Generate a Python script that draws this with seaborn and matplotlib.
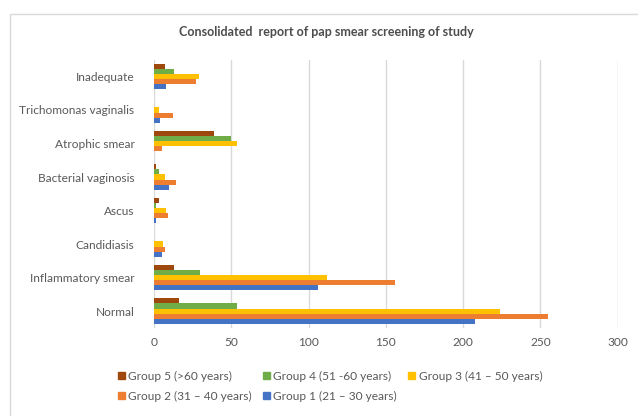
import pandas as pd
import seaborn as sns
import matplotlib.pyplot as plt
from matplotlib.patches import Rectangle, Patch

# datos
categorias = ['Inadequate', 'Trichomonas vaginalis', 'Atrophic smear', 'Bacterial vaginosis',
              'Ascus', 'Candidiasis', 'Inflammatory smear', 'Normal']
grupos = ['Group 5 (>60 years)', 'Group 4 (51 -60 years)', 'Group 3 (41 \u2013 50 years)',
          'Group 2 (31 \u2013 40 years)', 'Group 1 (21 \u2013 30 years)']

g5 = [7, 0, 39, 1, 3, 0, 13, 16]
g4 = [13, 0, 50, 3, 1, 0, 30, 54]
g3 = [29, 3, 54, 7, 8, 6, 112, 224]
g2 = [27, 12, 5, 14, 9, 7, 156, 255]
g1 = [8, 4, 0, 10, 1, 5, 106, 208]

colores = ['#9E480E', '#70AD47', '#FFC000', '#ED7D31', '#4472C4']
xticks = [0, 50, 100, 150, 200, 250, 300]

valores = [g5, g4, g3, g2, g1]
filas = []
for grupo, vals in zip(grupos, valores):
    for cat, v in zip(categorias, vals):
        filas.append({'cat': cat, 'grupo': grupo, 'n': v})
df = pd.DataFrame(filas)

sns.set_style('white')
plt.rcParams['font.family'] = ['Lato', 'DejaVu Sans']

fig = plt.figure(figsize=(6.38, 4.16), dpi=100)
ax = fig.add_axes([0.2414, 0.2121, 0.968 - 0.2414, 0.8564 - 0.2121])

sns.barplot(data=df, x='n', y='cat', hue='grupo', order=categorias, hue_order=grupos,
            palette=colores, orient='h', width=0.75, ax=ax, legend=False,
            linewidth=0, saturation=1)

ax.set_xlim(0, 300)
ax.set_xticks(xticks)
ax.grid(axis='x', color='#D9D9D9', linewidth=1)
ax.set_axisbelow(True)
for s in ax.spines.values():
    s.set_visible(False)
ax.set_xlabel('')
ax.set_ylabel('')
ax.tick_params(axis='both', colors='#595959', labelsize=8.6, length=0)
ax.tick_params(axis='y', pad=14)
ax.tick_params(axis='x', pad=7)

fig.text(0.511, 0.922, 'Consolidated  report of pap smear screening of study',
         ha='center', va='center', fontsize=9, fontweight='bold', color='#4d4d4d')

# leyenda en filas: G5 G4 G3 / G2 G1
orden = [0, 3, 1, 4, 2]
handles = [Patch(color=colores[i], label=grupos[i]) for i in orden]
fig.legend(handles=handles, ncol=3, loc='center', bbox_to_anchor=(0.517, 0.0715),
           frameon=False, fontsize=8.6, handlelength=0.6, handleheight=0.6,
           handletextpad=0.3, columnspacing=0.9, labelspacing=0.75, labelcolor='#595959')

# borde del grafico (recortado a la derecha y abajo)
fig.patches.append(Rectangle((10 / 638, -0.1), 1.2, 1 - 13.5 / 416 + 0.1,
                             transform=fig.transFigure, fill=False,
                             edgecolor='#D9D9D9', linewidth=1))

fig.savefig('out.png', dpi=100)
